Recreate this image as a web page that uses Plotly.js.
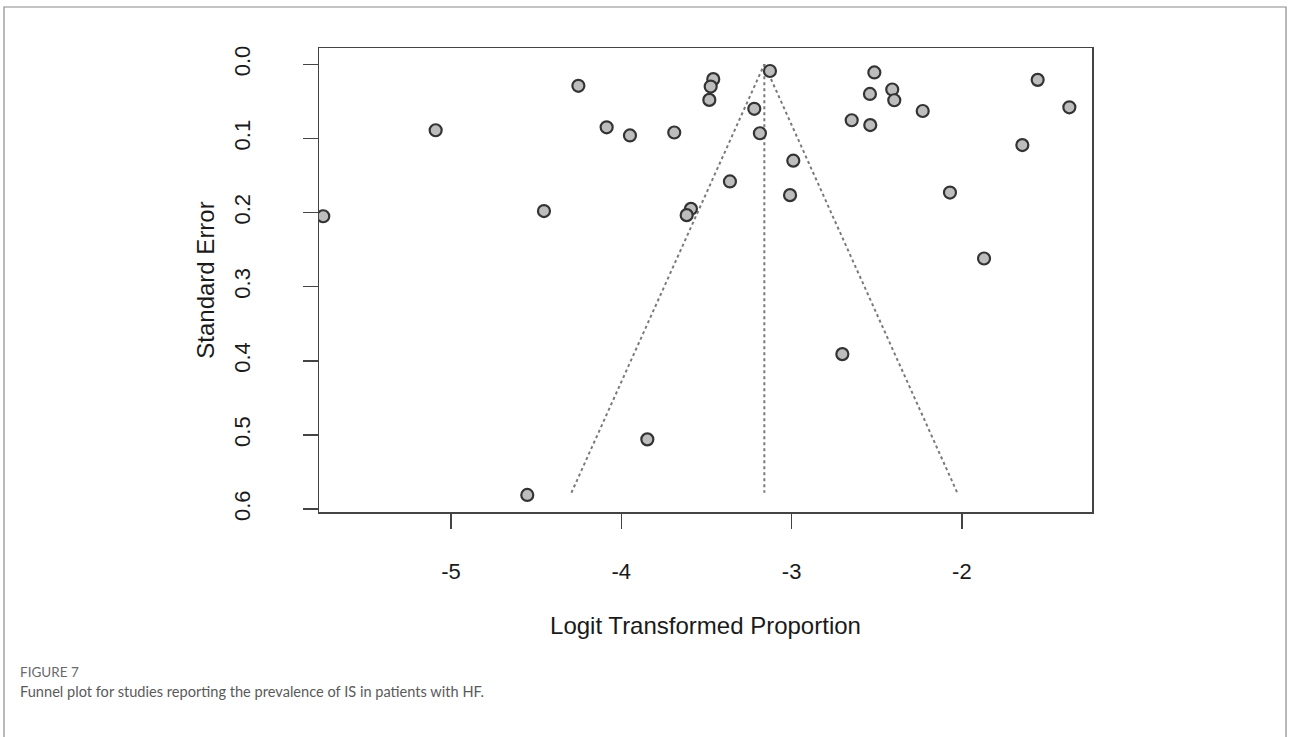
<!DOCTYPE html>
<html>
<head>
<meta charset="utf-8">
<script src="https://cdn.plot.ly/plotly-3.0.1.min.js"></script>
<style>
  html, body { margin: 0; padding: 0; background: #ffffff; }
  #chart { width: 1290px; height: 737px; }
</style>
</head>
<body>
<div id="chart"></div>
<script>
// Study estimates (logit transformed proportion) and their standard errors
const logitProportion = [
  -4.252, -5.090, -4.086, -3.949, -3.689, -3.460, -3.475, -3.483, -3.127, -3.219,
  -3.186, -3.362, -4.454, -3.591, -3.616, -5.750, -2.990, -3.009, -2.514, -2.540,
  -2.409, -2.397, -2.230, -2.647, -2.538, -1.555, -1.369, -1.645, -2.070, -1.870,
  -2.702, -3.847, -4.552
];
const standardError = [
  0.029, 0.089, 0.085, 0.096, 0.092, 0.020, 0.030, 0.048, 0.009, 0.060,
  0.093, 0.158, 0.198, 0.195, 0.2035, 0.205, 0.130, 0.1765, 0.011, 0.040,
  0.034, 0.0485, 0.063, 0.0755, 0.082, 0.021, 0.058, 0.109, 0.173, 0.262,
  0.391, 0.506, 0.581
];
// Funnel: pooled estimate and the range of SE covered by the pseudo-confidence region
const pooledEstimate = [-3.16];
const funnelSE = [0, 0.578];
const zCrit = [1.96];
const xTicks = [-5, -4, -3, -2];
const xTickText = ["-5", "-4", "-3", "-2"];
const yTicks = [0.0, 0.1, 0.2, 0.3, 0.4, 0.5, 0.6];
const yTickText = ["0.0", "0.1", "0.2", "0.3", "0.4", "0.5", "0.6"];

const c = pooledEstimate[0], z = zCrit[0];
const funnelX = [c - z * funnelSE[1], c - z * funnelSE[0], c + z * funnelSE[1]];
const funnelY = [funnelSE[1], funnelSE[0], funnelSE[1]];

const dotStyle = { color: '#7a7a7a', width: 2, dash: 'dot' };

const traces = [
  {
    type: 'scatter', mode: 'lines', x: funnelX, y: funnelY,
    line: dotStyle, hoverinfo: 'skip', showlegend: false
  },
  {
    type: 'scatter', mode: 'lines', x: [c, c], y: [funnelSE[0], funnelSE[1]],
    line: dotStyle, hoverinfo: 'skip', showlegend: false
  },
  {
    type: 'scatter', mode: 'markers', x: logitProportion, y: standardError,
    marker: { size: 12, color: '#bdbdbd', line: { color: '#333333', width: 2.2 } },
    showlegend: false
  }
];

const axisFont = { family: 'Liberation Sans, Arial, sans-serif', size: 22, color: '#1a1a1a' };
const titleFont = { family: 'Liberation Sans, Arial, sans-serif', size: 24, color: '#1a1a1a' };

const layout = {
  width: 1290, height: 737,
  margin: { l: 319, r: 198, t: 48, b: 225 },
  paper_bgcolor: '#ffffff', plot_bgcolor: '#ffffff',
  showlegend: false,
  xaxis: {
    range: [-5.775, -1.236],
    tickvals: xTicks, ticktext: xTickText,
    ticks: 'outside', ticklen: 15, tickwidth: 1.5, tickcolor: '#444',
    showline: true, linecolor: '#444', linewidth: 1.5, mirror: true,
    showgrid: false, zeroline: false,
    tickfont: axisFont, ticklabelstandoff: 24,
    title: { text: 'Logit Transformed Proportion', font: titleFont, standoff: 34 }
  },
  yaxis: {
    range: [0.604, -0.022],
    tickvals: yTicks, ticktext: yTickText, tickangle: -90,
    ticks: 'outside', ticklen: 15, tickwidth: 1.5, tickcolor: '#444',
    showline: true, linecolor: '#444', linewidth: 1.5, mirror: true,
    showgrid: false, zeroline: false,
    tickfont: axisFont, ticklabelstandoff: 44,
    title: { text: 'Standard Error', font: titleFont, standoff: 8 }
  },
  shapes: [
    {
      type: 'rect', xref: 'paper', yref: 'paper',
      x0: -0.4075, x1: 1.251, y0: -0.52, y1: 1.0884,
      line: { color: '#8a8a8a', width: 1.2 }, fillcolor: 'rgba(0,0,0,0)', layer: 'below'
    }
  ],
  annotations: [
    {
      xref: 'paper', yref: 'paper', x: -0.3894, y: -0.3448,
      xanchor: 'left', yanchor: 'middle', showarrow: false,
      text: 'FIGURE 7',
      font: { family: 'Lato, Open Sans, sans-serif', size: 13.5, color: '#6a6a6a' }
    },
    {
      xref: 'paper', yref: 'paper', x: -0.3894, y: -0.3879,
      xanchor: 'left', yanchor: 'middle', showarrow: false,
      text: 'Funnel plot for studies reporting the prevalence of IS in patients with HF.',
      font: { family: 'Lato, Open Sans, sans-serif', size: 14.6, color: '#5a5a5a' }
    }
  ]
};

Plotly.newPlot('chart', traces, layout, { displayModeBar: false, staticPlot: true });
</script>
</body>
</html>
